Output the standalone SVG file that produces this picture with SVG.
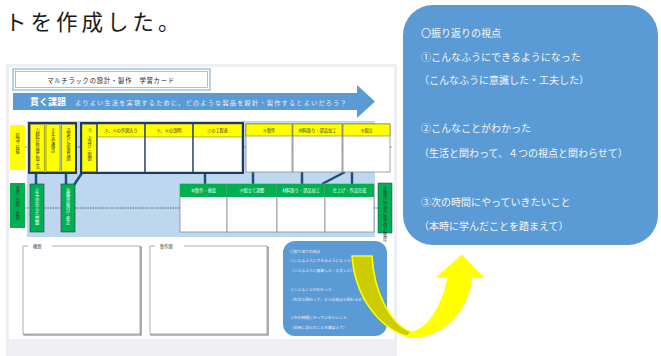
<svg xmlns="http://www.w3.org/2000/svg" width="661" height="356" viewBox="0 0 661 356">
<defs>
<style>
.jp{font-family:"Noto Sans CJK JP","Noto Sans",sans-serif;}
.tiny{font-family:"Noto Sans CJK JP",sans-serif;font-size:4.2px;fill:#333;}
.vt{font-family:"Noto Sans CJK JP",sans-serif;font-size:4.2px;fill:#333;writing-mode:vertical-rl;text-orientation:upright;}
.vtw{font-family:"Noto Sans CJK JP",sans-serif;font-size:4.2px;fill:#fff;writing-mode:vertical-rl;text-orientation:upright;}
.yel{fill:#ffff00;stroke:#7f7f00;stroke-width:0.6;}
.grn{fill:#00b050;stroke:#1f3864;stroke-width:0.6;}
.cell{fill:#fff;stroke:#8c8c8c;stroke-width:0.8;}
.navy{fill:none;stroke:#1f3864;stroke-width:2;}
.conn{stroke:#1f4e79;stroke-width:2.5;fill:none;}
.dash{stroke:#444;stroke-width:0.8;stroke-dasharray:1.5 1;fill:none;}
.co{font-family:"Noto Sans CJK JP",sans-serif;font-size:10px;fill:#f4f4f4;}
.mini{font-family:"Noto Sans CJK JP",sans-serif;font-size:3.8px;fill:#eef;}
</style>
</defs>
<rect width="661" height="356" fill="#fff"/>

<text class="jp" x="5" y="30" font-size="21.5" letter-spacing="4" fill="#1a1a1a">トを作成した。</text>

<g id="card">
<rect x="6" y="64" width="391" height="292" fill="#efeff3"/>
<rect x="9" y="67" width="385" height="272" fill="#fff"/>
</g>

<g id="title">
<rect x="13" y="69" width="197" height="21" fill="#fff" stroke="#9dc3e6" stroke-width="1.5"/>
<rect x="15.5" y="71.5" width="192" height="16" fill="#fff" stroke="#5b9bd5" stroke-width="0.6"/>
<text class="jp" x="111" y="82.5" font-size="6.3" text-anchor="middle" letter-spacing="0.8" fill="#222">マルチラックの設計・製作　学習カード</text>
</g>

<g id="banner">
<path d="M13,93 H357 V85 L375,101.5 L357,118 V110 H13 Z" fill="#5b9bd5"/>
<text class="jp" x="30" y="105" font-size="9" font-weight="bold" fill="#fff">貫く課題</text>
<text class="jp" x="75" y="104.5" font-size="6.2" letter-spacing="1.2" fill="#e8eef8">よりよい生活を実現するために、どのような製品を設計・製作するとよいだろう？</text>
</g>

<rect id="panel" x="27" y="121" width="348" height="116" fill="#bdd7ee"/>

<g id="connectors">
<path class="dash" d="M25,147 H29 M76,147 H81 M243,147 H246 M292,147 H293 M342,147 H343 M390,147 H392"/>
<path class="dash" d="M25,208 H180 M227,208 H228 M277,208 H278 M325,208 H326 M374,208 H378"/>
<path class="conn" d="M36,173 V184 M66,173 V184 M82,173 L74,185"/>
<path class="conn" d="M205,173 V184 M253,172 V184 M302,172 V184 M352,172 V184 M345,172 L322,184"/>
</g>

<g id="label-knowledge">
<rect x="10" y="125" width="15" height="45" fill="#ffff00"/>
<text class="vt" x="17.5" y="133">知識・技能</text>
</g>
<g id="label-thinking">
<rect x="10" y="183" width="15" height="45" fill="#00b050"/>
<text class="vt" x="17.5" y="186">思考・判断・表現</text>
</g>
<g id="label-attitude">
<rect x="378" y="183" width="14" height="50" fill="#00b050" stroke="#1f3864" stroke-width="0.5"/>
<text class="vt" x="385" y="186">主体的に学習に取り組む態度</text>
</g>

<g id="group1">
<rect class="yel" x="30.5" y="124.5" width="14" height="47"/>
<rect class="yel" x="46" y="124.5" width="14" height="47"/>
<rect class="yel" x="61.5" y="124.5" width="14" height="47"/>
<text class="vt" x="37.5" y="127">①材料の特徴と加工法</text>
<text class="vt" x="53" y="127">②丈夫な構造</text>
<text class="vt" x="68.5" y="127">③製作に必要な図</text>
<rect class="navy" x="29" y="123" width="47" height="50"/>
</g>

<g id="group2">
<rect class="yel" x="82" y="124.5" width="15" height="47"/>
<text class="vt" x="89.5" y="127">④、⑤設計・製図</text>
<rect class="cell" x="97" y="124" width="48" height="48"/>
<rect class="yel" x="97" y="124" width="48" height="13"/>
<text class="tiny" x="121" y="132" text-anchor="middle">③、④の作図入り</text>
<rect class="cell" x="145" y="124" width="48" height="48"/>
<rect class="yel" x="145" y="124" width="48" height="13"/>
<text class="tiny" x="169" y="132" text-anchor="middle">⑤、⑥の説明</text>
<rect class="cell" x="193" y="124" width="49" height="48"/>
<rect class="yel" x="193" y="124" width="49" height="13"/>
<text class="tiny" x="217.5" y="132" text-anchor="middle">⑦の工程表</text>
<path d="M97,123 V173 M145,123 V173 M193,123 V173" stroke="#1f3864" stroke-width="1.2"/>
<rect class="navy" x="81" y="123" width="162" height="50"/>
</g>

<g id="upper-cells">
<rect class="cell" x="246" y="124" width="46" height="48"/>
<rect class="yel" x="246" y="124" width="46" height="12"/>
<text class="tiny" x="269" y="131.5" text-anchor="middle">⑧製作</text>
<rect class="cell" x="293" y="124" width="49" height="48"/>
<rect class="yel" x="293" y="124" width="49" height="12"/>
<text class="tiny" x="317.5" y="131.5" text-anchor="middle">材料取り・部品加工</text>
<rect class="cell" x="343" y="124" width="47" height="48"/>
<rect class="yel" x="343" y="124" width="47" height="12"/>
<text class="tiny" x="366.5" y="131.5" text-anchor="middle">⑨組立</text>
</g>

<g id="green-left">
<rect class="grn" x="30" y="184" width="14" height="48"/>
<text class="vtw" x="37" y="187">①生活の中から問題</text>
<rect class="grn" x="61" y="184" width="14" height="48"/>
<text class="vtw" x="68" y="187">⑥構想の検討・修正</text>
</g>

<g id="green-cells">
<rect class="cell" x="180" y="184" width="47" height="48"/>
<rect x="180" y="184" width="47" height="13" fill="#00b050"/>
<text class="tiny" x="203.5" y="192" text-anchor="middle" fill="#fff" style="fill:#fff">⑩製作・検査</text>
<rect class="cell" x="227" y="184" width="50" height="48"/>
<rect x="227" y="184" width="50" height="13" fill="#00b050"/>
<text class="tiny" x="252" y="192" text-anchor="middle" style="fill:#fff">⑪組立て調整</text>
<rect class="cell" x="277" y="184" width="48" height="48"/>
<rect x="277" y="184" width="48" height="13" fill="#00b050"/>
<text class="tiny" x="301" y="192" text-anchor="middle" style="fill:#fff">材料取り・部品加工</text>
<rect class="cell" x="325" y="184" width="49" height="48"/>
<rect x="325" y="184" width="49" height="13" fill="#00b050"/>
<text class="tiny" x="349.5" y="192" text-anchor="middle" style="fill:#fff">仕上げ・作品完成</text>
</g>

<g id="box-kousou">
<path d="M24,247 H141 V335 H24 Z" fill="none" stroke="#777" stroke-width="1.2"/>
<rect x="23" y="246" width="117" height="88" fill="#fff"/>
<path d="M23,246 V334 H140 V246 H52 M23,246 H28" fill="none" stroke="#9a9a9a" stroke-width="0.8"/>
<text class="tiny" x="33" y="248">構想</text>
</g>
<g id="box-seisakuzu">
<path d="M151,247 H268 V335 H151 Z" fill="none" stroke="#777" stroke-width="1.2"/>
<rect x="150" y="246" width="117" height="88" fill="#fff"/>
<path d="M150,246 V334 H267 V246 H184 M150,246 H155" fill="none" stroke="#9a9a9a" stroke-width="0.8"/>
<text class="tiny" x="160" y="248">製作図</text>
</g>

<g id="mini-callout">
<rect x="283" y="241" width="104" height="95" rx="12" fill="#5b9bd5"/>
<text class="mini" x="290" y="253">〇振り返りの視点</text>
<text class="mini" x="290" y="261.5">①こんなふうにできるようになった</text>
<text class="mini" x="290" y="272">（こんなふうに意識した・工夫した）</text>
<text class="mini" x="290" y="291">②こんなことがわかった</text>
<text class="mini" x="290" y="300.5">（生活と関わって、４つの視点と関わらせて）</text>
<text class="mini" x="290" y="319">③次の時間にやっていきたいこと</text>
<text class="mini" x="290" y="328.5">（本時に学んだことを踏まえて）</text>
</g>

<g id="callout">
<rect x="403" y="5" width="255" height="240" rx="30" fill="#5b9bd5"/>
<text class="co" x="421" y="37">〇振り返りの視点</text>
<text class="co" x="421" y="61">①こんなふうにできるようになった</text>
<text class="co" x="419" y="84">（こんなふうに意識した・工夫した）</text>
<text class="co" x="421" y="132">②こんなことがわかった</text>
<text class="co" x="419" y="157">（生活と関わって、４つの視点と関わらせて）</text>
<text class="co" x="421" y="206">③次の時間にやっていきたいこと</text>
<text class="co" x="419" y="230">（本時に学んだことを踏まえて）</text>
</g>

<g id="curved-arrow">
<path d="M352,256 L372,256 C374,292 390,324 411,332 L409,337 C378,328 355,296 352,256 Z" fill="#cccc00" stroke="#ffff00" stroke-width="1.6" stroke-linejoin="round"/>
<path d="M406,337 C442,341 468,312 472,277 L483,277 L462,255 L437,277 L448,277 C443,304 428,330 411,332 Z" fill="#ffff00" stroke="#ffff00" stroke-width="1" stroke-linejoin="round"/>
</g>
</svg>
